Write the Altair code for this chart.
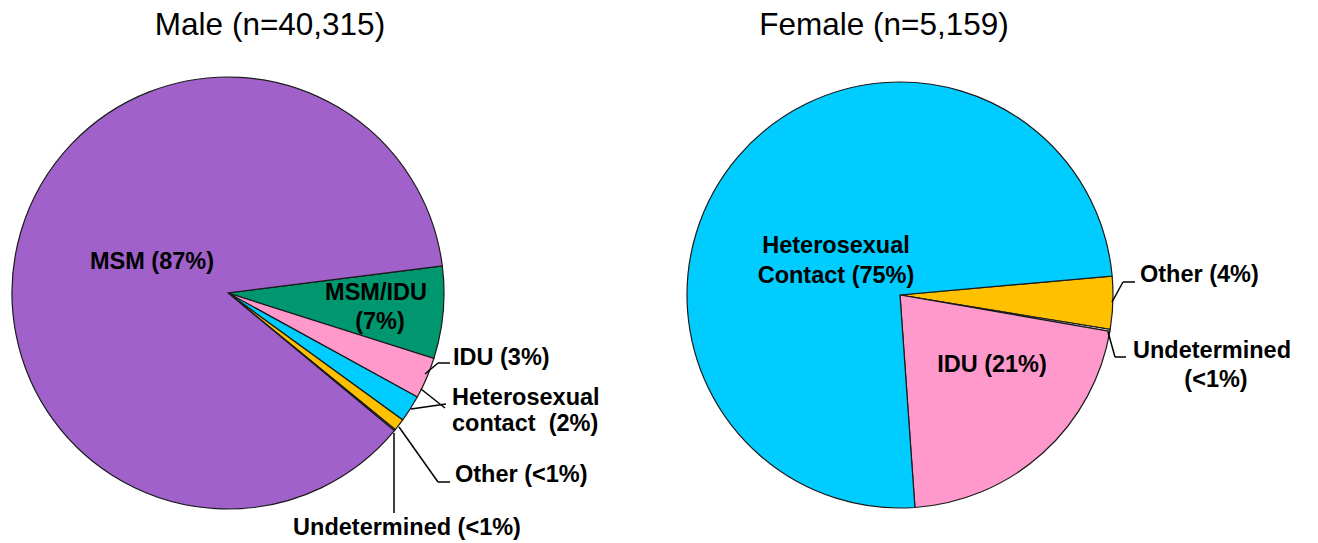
import math
import altair as alt
import pandas as pd

# ---------------- data ----------------
male_cats = ["MSM/IDU", "IDU", "Heterosexual", "Other", "Undetermined", "MSM"]
male_vals = [6.9, 3.1, 2.0, 0.9, 0.1, 87.0]

female_cats = ["Other", "Undetermined", "IDU", "Heterosexual"]
female_vals = [4.0, 0.15, 21.15, 74.7]

color_domain = ["MSM", "MSM/IDU", "IDU", "Heterosexual", "Other", "Undetermined"]
color_range = ["#A061CB", "#00976F", "#FF99CC", "#00CCFF", "#FFC000", "#FFFFFF"]

titles = ["Male (n=40,315)", "Female (n=5,159)"]

center_labels = ["MSM (87%)", "MSM/IDU", "(7%)", "Undetermined (<1%)",
                 "Heterosexual", "Contact (75%)", "IDU (21%)", "(<1%)"]
left_labels = ["IDU (3%)", "Heterosexual", "contact \u00a0(2%)", "Other (<1%)",
               "Other (4%)", "Undetermined"]

# ---------------- layout (page pixel coordinates) ----------------
title_x = [270, 884]
title_y = [35, 35]
center_x = [152, 376, 380, 407, 836, 836, 992, 1216]
center_y = [269, 300, 329, 535, 253, 283, 372, 387]
left_x = [453, 452, 452, 455, 1140, 1133]
left_y = [365, 405, 431, 482, 282, 358]

lead_x = [425, 438, 421, 411, 399, 438, 394, 1112, 1123, 1108, 1115]
lead_y = [374, 363, 389, 409, 427, 482, 433, 302, 282, 332, 357]
lead_x2 = [438, 450, 445, 446, 438, 450, 394, 1123, 1135, 1115, 1126]
lead_y2 = [363, 363, 408, 404, 482, 482, 513, 282, 282, 357, 357]

W, H = 1302, 535
FONT = "Liberation Sans, Arial, sans-serif"

xs = alt.Scale(domain=[8, 8 + W], nice=False, zero=False)
ys = alt.Scale(domain=[8, 8 + H], nice=False, zero=False, reverse=True)
color_scale = alt.Scale(domain=color_domain, range=color_range)


def pie(cats, vals, start_deg, cx, cy, r):
    df = pd.DataFrame({"cat": cats, "val": vals, "ord": list(range(len(cats)))})
    a0 = math.radians(start_deg)
    return alt.Chart(df).mark_arc(
        outerRadius=r, stroke="#1a1a1a", strokeWidth=1.2
    ).encode(
        theta=alt.Theta("val:Q", stack=True,
                        scale=alt.Scale(range=[a0, a0 + 2 * math.pi])),
        color=alt.Color("cat:N", scale=color_scale, legend=None),
        order=alt.Order("ord:Q"),
        x=alt.value(cx - 8),
        y=alt.value(cy - 8),
    )


male_pie = pie(male_cats, male_vals, 82.8, 228, 293, 216)
female_pie = pie(female_cats, female_vals, 84.9, 900, 295, 213)

lead_df = pd.DataFrame({"x": lead_x, "y": lead_y, "x2": lead_x2, "y2": lead_y2})
leaders = alt.Chart(lead_df).mark_rule(color="black", strokeWidth=1.5).encode(
    x=alt.X("x:Q", scale=xs, axis=None),
    y=alt.Y("y:Q", scale=ys, axis=None),
    x2="x2:Q",
    y2="y2:Q",
)

title_df = pd.DataFrame({"t": titles, "x": title_x, "y": title_y})
title_layer = alt.Chart(title_df).mark_text(
    font=FONT, fontSize=31.5, align="center", baseline="alphabetic", color="black"
).encode(
    x=alt.X("x:Q", scale=xs, axis=None),
    y=alt.Y("y:Q", scale=ys, axis=None),
    text="t:N",
)

cl_df = pd.DataFrame({"t": center_labels, "x": center_x, "y": center_y})
cl_layer = alt.Chart(cl_df).mark_text(
    font=FONT, fontSize=23.5, fontWeight="bold", align="center",
    baseline="alphabetic", color="black"
).encode(
    x=alt.X("x:Q", scale=xs, axis=None),
    y=alt.Y("y:Q", scale=ys, axis=None),
    text="t:N",
)

ll_df = pd.DataFrame({"t": left_labels, "x": left_x, "y": left_y})
ll_layer = alt.Chart(ll_df).mark_text(
    font=FONT, fontSize=23.5, fontWeight="bold", align="left",
    baseline="alphabetic", color="black"
).encode(
    x=alt.X("x:Q", scale=xs, axis=None),
    y=alt.Y("y:Q", scale=ys, axis=None),
    text="t:N",
)

chart = alt.layer(
    male_pie, female_pie, leaders, title_layer, cl_layer, ll_layer
).resolve_scale(
    theta="independent"
).properties(
    width=W, height=H, padding=0,
    autosize=alt.AutoSizeParams(type="none"),
    background="white",
).configure_view(stroke=None)

chart.save("out.html", embed_options={"renderer": "svg", "actions": False})
